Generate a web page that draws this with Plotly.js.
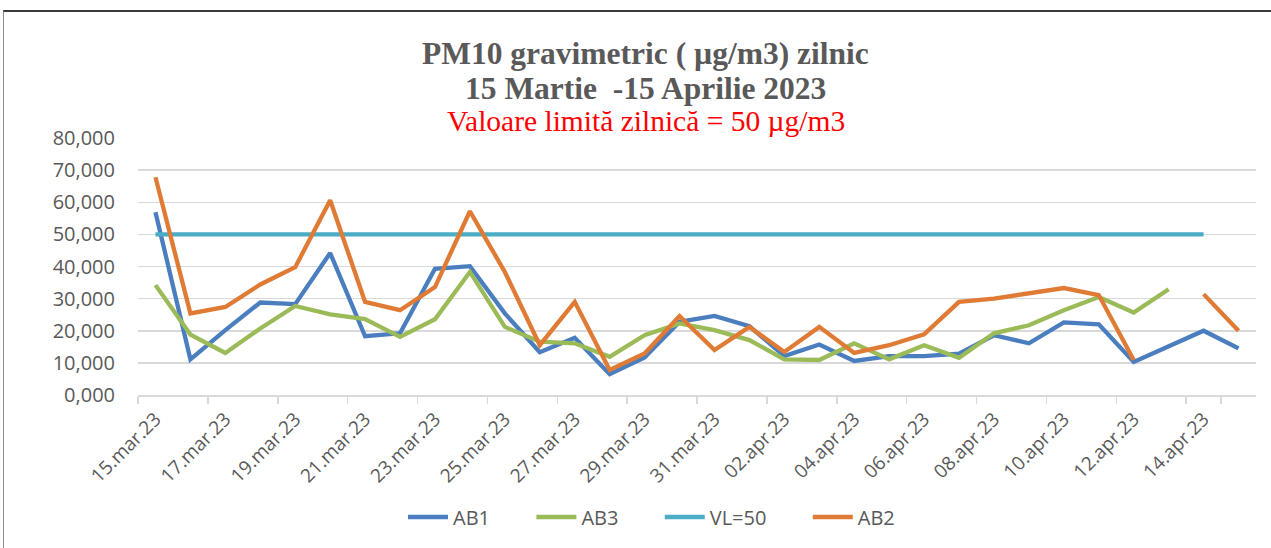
<!DOCTYPE html>
<html>
<head>
<meta charset="utf-8">
<script src="https://cdn.plot.ly/plotly-3.0.1.min.js"></script>
<style>
  html, body { margin: 0; padding: 0; background: #fff; }
  #wrap { position: relative; width: 1271px; height: 548px; overflow: hidden; }
  #chart { position: absolute; left: 0; top: 0; width: 1271px; height: 548px; }
  #frame { position: absolute; left: 3px; top: 10px; width: 1280px; height: 560px;
           border-top: 2px solid #3a3a3a; border-left: 1px solid #8c8c8c; pointer-events: none; }
</style>
</head>
<body>
<div id="wrap"><div id="chart"></div><div id="frame"></div></div>
<script>
// Categories: daily dates 15 March - 15 April 2023
const dates = [
  "15.mar.23","16.mar.23","17.mar.23","18.mar.23","19.mar.23","20.mar.23","21.mar.23","22.mar.23",
  "23.mar.23","24.mar.23","25.mar.23","26.mar.23","27.mar.23","28.mar.23","29.mar.23","30.mar.23",
  "31.mar.23","01.apr.23","02.apr.23","03.apr.23","04.apr.23","05.apr.23","06.apr.23","07.apr.23",
  "08.apr.23","09.apr.23","10.apr.23","11.apr.23","12.apr.23","13.apr.23","14.apr.23","15.apr.23"
];
// Series values (µg/m3)
const ab1 = [56.9,11.1,20.2,28.8,28.3,44.2,18.3,19.2,39.3,40.1,25.4,13.3,17.8,6.5,11.7,22.8,
             24.6,21.4,12.1,15.7,10.6,12.1,12.1,12.9,18.6,16.1,22.6,22.0,10.3,15.2,20.0,14.5];
const ab3 = [34.2,18.8,13.1,20.7,27.7,25.1,23.6,18.1,23.6,38.3,21.2,16.6,16.1,11.9,18.6,22.3,
             20.2,17.1,11.1,10.9,16.1,11.1,15.5,11.6,19.2,21.7,26.4,30.5,25.7,32.9,null,null];
const vl50 = [50,50,50,50,50,50,50,50,50,50,50,50,50,50,50,50,
              50,50,50,50,50,50,50,50,50,50,50,50,50,50,50,null];
const ab2 = [67.8,25.4,27.4,34.4,39.8,60.6,29.0,26.4,33.6,57.2,38.3,15.5,29.0,7.8,12.9,24.6,
             14.0,21.2,13.4,21.2,13.1,15.5,18.9,29.0,30.0,31.8,33.3,31.1,10.9,null,31.4,20.0];
// Tick labels shown every second day
const tickLabels = dates.filter((d, i) => i % 2 === 0);
// Series names and title lines
const seriesNames = ['AB1', 'AB3', 'VL=50', 'AB2'];
const titleLine1 = 'PM10 gravimetric ( µg/m3) zilnic';
const titleLine2 = '15 Martie \u00a0-15 Aprilie 2023';
const titleLine3 = 'Valoare limită zilnică = 50 µg/m3';

const pad = '\u00a0'.repeat(7);
const mk = (name, y, color, last) => ({
  type: 'scatter', mode: 'lines', name: last ? name : name + pad, x: dates, y: y,
  connectgaps: false,
  line: { color: color, width: 4.3, shape: 'linear' },
  hoverinfo: 'skip'
});

const traces = [
  mk(seriesNames[0], ab1, '#4A7EBF'),
  mk(seriesNames[1], ab3, '#9BBB59'),
  mk(seriesNames[2], vl50, '#4BACC6'),
  mk(seriesNames[3], ab2, '#E07B35', true)
];

// plot area spans pixel y 138 (top) to 395 (bottom)
const pyToPaper = p => (395 - p) / 257;
const pxToPaper = p => (p - 138) / 1118;
const serif = '"Liberation Serif", "Times New Roman", serif';

const layout = {
  width: 1271, height: 548,
  paper_bgcolor: '#ffffff', plot_bgcolor: '#ffffff',
  separators: ',.',
  margin: { l: 138, r: 15, t: 138, b: 153, pad: 0, autoexpand: false },
  xaxis: {
    type: 'category', automargin: false,
    categoryorder: 'array', categoryarray: dates,
    range: [-0.5, dates.length - 0.5],
    tickmode: 'array', tickvals: tickLabels, ticktext: tickLabels,
    tickson: 'boundaries',
    ticks: 'outside', ticklen: 7, tickcolor: '#d9d9d9', tickwidth: 1.5,
    tickangle: -45,
    ticklabelstandoff: 4,
    tickfont: { family: '"Open Sans", "Noto Sans", sans-serif', size: 19, color: '#595959' },
    showgrid: false, zeroline: false,
    showline: true, linecolor: '#d9d9d9', linewidth: 1.5,
    fixedrange: true
  },
  yaxis: {
    automargin: false,
    range: [0, 80], dtick: 10, tick0: 0,
    tickformat: '.3f',
    tickfont: { family: '"Open Sans", "Noto Sans", sans-serif', size: 20, color: '#595959' },
    showgrid: true, gridcolor: '#d9d9d9', gridwidth: 1.5,
    zeroline: false, showline: false, ticks: '',
    ticklabelstandoff: 22,
    fixedrange: true
  },
  annotations: [
    { text: '<b>' + titleLine1 + '</b>', xref: 'paper', yref: 'paper', x: pxToPaper(645), y: pyToPaper(53),
      xanchor: 'center', yanchor: 'middle', showarrow: false,
      font: { family: serif, size: 31.5, color: '#595959' } },
    { text: '<b>' + titleLine2 + '</b>', xref: 'paper', yref: 'paper', x: pxToPaper(645), y: pyToPaper(88),
      xanchor: 'center', yanchor: 'middle', showarrow: false,
      font: { family: serif, size: 31.5, color: '#595959' } },
    { text: titleLine3, xref: 'paper', yref: 'paper', x: pxToPaper(646), y: pyToPaper(121),
      xanchor: 'center', yanchor: 'middle', showarrow: false,
      font: { family: serif, size: 29.5, color: '#FF0000' } }
  ],
  showlegend: true,
  legend: {
    orientation: 'h', xref: 'container', yref: 'container',
    x: 403 / 1271, xanchor: 'left', y: 1 - 517/548, yanchor: 'middle',
    font: { family: '"Open Sans", "Noto Sans", sans-serif', size: 20, color: '#595959' },
    itemwidth: 40, tracegroupgap: 0, traceorder: 'normal', bgcolor: 'rgba(0,0,0,0)'
  }
};

Plotly.newPlot('chart', traces, layout, { displayModeBar: false, staticPlot: true });
</script>
</body>
</html>
